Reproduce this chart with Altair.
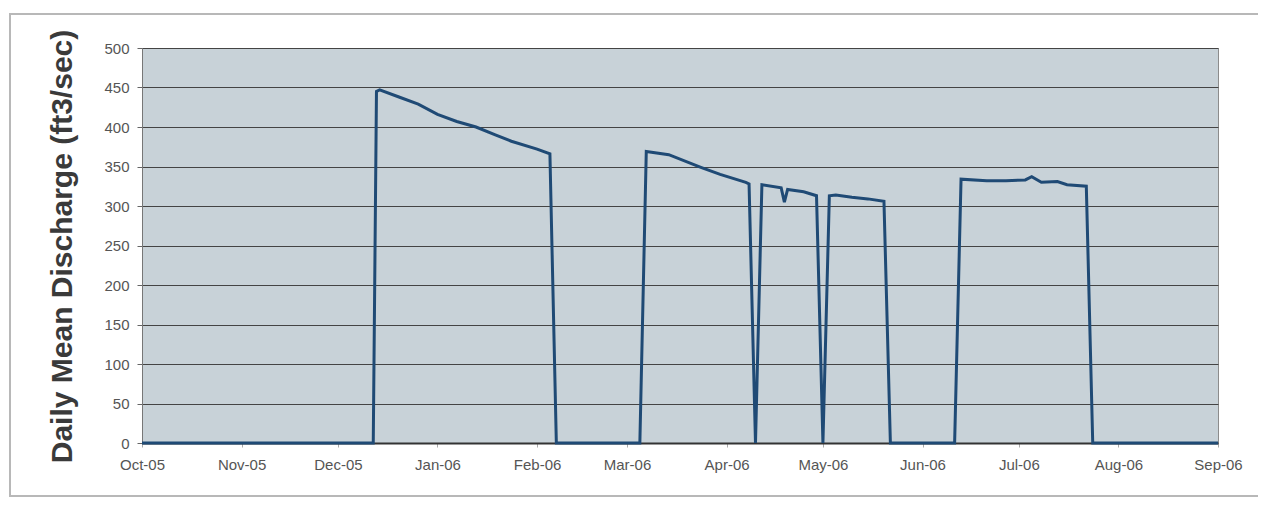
import altair as alt
import pandas as pd

# Daily mean discharge readings (ft3/sec)
dates = [
    "2005-10-01", "2005-12-12", "2005-12-13", "2005-12-14", "2005-12-20", "2005-12-26",
    "2006-01-01", "2006-01-07", "2006-01-13", "2006-01-19", "2006-01-24", "2006-02-01",
    "2006-02-05", "2006-02-07",
    "2006-03-05", "2006-03-07", "2006-03-14", "2006-03-24", "2006-03-30", "2006-04-07",
    "2006-04-08", "2006-04-10",
    "2006-04-12", "2006-04-18", "2006-04-19", "2006-04-20", "2006-04-25", "2006-04-29",
    "2006-05-01",
    "2006-05-03", "2006-05-05", "2006-05-10", "2006-05-15", "2006-05-20", "2006-05-22",
    "2006-06-11", "2006-06-13", "2006-06-21", "2006-06-27", "2006-07-03", "2006-07-05",
    "2006-07-08", "2006-07-13", "2006-07-16", "2006-07-22", "2006-07-24",
    "2006-09-01",
]
discharge = [
    0, 0, 445, 447, 438, 429,
    416, 407, 400, 390, 382, 372,
    366, 0,
    0, 369, 365, 349, 340, 330,
    328, 0,
    327, 323, 305, 321, 318, 313,
    0,
    313, 314, 311, 309, 306, 0,
    0, 334, 332, 332, 333, 337,
    330, 331, 327, 325, 0,
    0,
]

month_ticks = [
    (2005, 10), (2005, 11), (2005, 12), (2006, 1), (2006, 2), (2006, 3),
    (2006, 4), (2006, 5), (2006, 6), (2006, 7), (2006, 8), (2006, 9),
]
y_ticks = [0, 50, 100, 150, 200, 250, 300, 350, 400, 450, 500]

df = pd.DataFrame({"date": dates, "discharge": discharge})
tick_values = [alt.DateTime(year=y, month=m, date=1, utc=True) for y, m in month_ticks]

FONT = "Liberation Sans"

line = alt.Chart(df).mark_line(color="#1f4a75", strokeWidth=3, strokeJoin="miter").encode(
    x=alt.X(
        "date:T",
        scale=alt.Scale(
            type="utc",
            domain=[tick_values[0], tick_values[-1]],
        ),
        axis=alt.Axis(
            values=tick_values,
            labelExpr="utcFormat(datum.value, '%b-%y')",
            title=None,
            grid=False,
            labelFont=FONT,
            labelFontSize=15,
            labelColor="#555555",
            labelPadding=10,
            labelOverlap=False,
            labelFlush=False,
            tickSize=4,
            tickColor="#aaaaaa",
            domainColor="#333333",
            domainWidth=2,
        ),
    ),
    y=alt.Y(
        "discharge:Q",
        scale=alt.Scale(domain=[0, 500], nice=False),
        axis=alt.Axis(
            values=y_ticks,
            title="Daily Mean Discharge (ft3/sec)",
            titleFont=FONT,
            titleFontSize=30,
            titleFontWeight="bold",
            titleColor="#3a3a3a",
            titleX=-80,
            titleY=198,
            titleBaseline="middle",
            labelFont=FONT,
            labelFontSize=15,
            labelColor="#555555",
            labelPadding=8,
            tickSize=5,
            tickColor="#666666",
            domainColor="#777777",
            grid=True,
            gridColor="#444444",
            gridWidth=1,
        ),
    ),
)

frame = alt.Chart(pd.DataFrame({"k": [0]})).mark_rect(
    filled=False, stroke="#b8b8b8", strokeWidth=2
).encode(
    x=alt.value(-132),
    x2=alt.value(1200),
    y=alt.value(-34),
    y2=alt.value(448),
)

chart = alt.layer(frame, line).properties(
    width=1076,
    height=395,
    autosize=alt.AutoSizeParams(type="none"),
    padding={"left": 134, "top": 40, "right": 40, "bottom": 55},
    background="white",
).configure_view(
    fill="#c8d2d8",
    stroke="#8c8c8c",
    strokeWidth=1,
)

chart.save("out.html", embed_options={"renderer": "svg", "actions": False})
